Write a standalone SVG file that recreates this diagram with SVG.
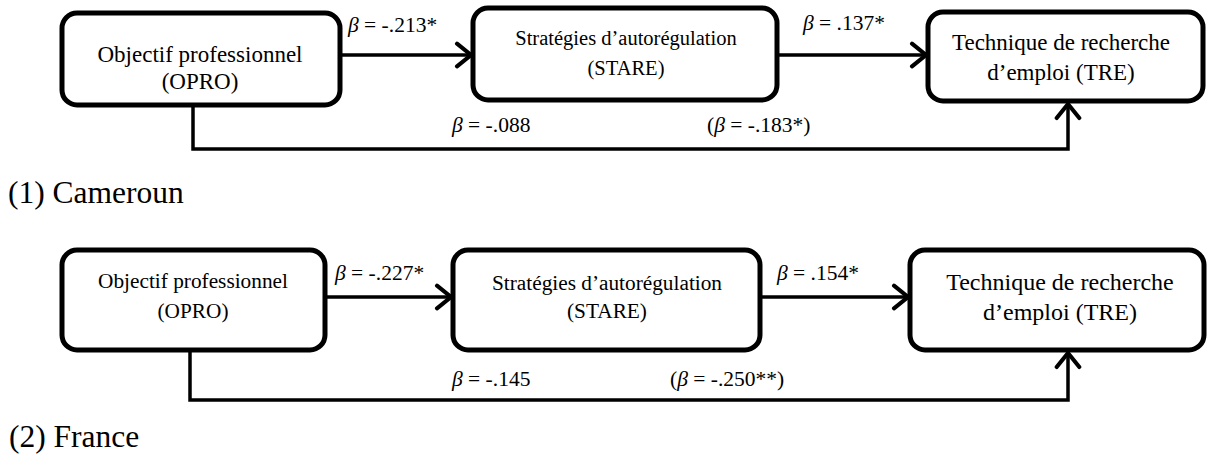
<svg xmlns="http://www.w3.org/2000/svg" width="1209" height="455" viewBox="0 0 1209 455">
<style>
.box{fill:#fff;stroke:#000;stroke-width:5}
.t{font-family:"Liberation Serif","Times New Roman",serif;fill:#000;text-anchor:middle}
.lbl{font-family:"Liberation Serif","Times New Roman",serif;fill:#000;font-size:21.5px}
.cap{font-family:"Liberation Serif","Times New Roman",serif;fill:#000;font-size:31.5px}
.b{font-style:italic}
.con{fill:none;stroke:#000;stroke-width:3.5}
</style>
<defs>
<marker id="arr" markerUnits="userSpaceOnUse" markerWidth="22" markerHeight="28" viewBox="-16 -13 18 26" refX="0" refY="0" orient="auto">
<path d="M-13,-10.5 L0,0 L-13,10.5" fill="none" stroke="#000" stroke-width="3.8" stroke-linecap="round" stroke-linejoin="miter"/>
</marker>
</defs>

<g id="connectors">
<path class="con" d="M340,55 H471" marker-end="url(#arr)"/>
<path class="con" d="M777,55 H926" marker-end="url(#arr)"/>
<path class="con" d="M193,105 V149 H1068 V104" marker-end="url(#arr)"/>
<path class="con" d="M325,297 H451" marker-end="url(#arr)"/>
<path class="con" d="M760,297 H908" marker-end="url(#arr)"/>
<path class="con" d="M190,350 V400 H1068 V353" marker-end="url(#arr)"/>
</g>

<g id="labels">
<text class="lbl" x="348" y="32"><tspan class="b">β</tspan> = -.213*</text>
<text class="lbl" x="803" y="30"><tspan class="b">β</tspan> = .137*</text>
<text class="lbl" x="452" y="132"><tspan class="b">β</tspan> = -.088</text>
<text class="lbl" x="707" y="132">(<tspan class="b">β</tspan> = -.183*)</text>
<text class="lbl" x="335" y="280"><tspan class="b">β</tspan> = -.227*</text>
<text class="lbl" x="777" y="280"><tspan class="b">β</tspan> = .154*</text>
<text class="lbl" x="452" y="386"><tspan class="b">β</tspan> = -.145</text>
<text class="lbl" x="670" y="386">(<tspan class="b">β</tspan> = -.250**)</text>
<text class="cap" x="8" y="203">(1) Cameroun</text>
<text class="cap" x="9" y="447">(2) France</text>
</g>

<g id="opro1">
<rect class="box" x="62" y="13" width="278" height="92" rx="15"/>
<text class="t" x="200" y="62" font-size="23">Objectif professionnel</text>
<text class="t" x="200" y="89" font-size="23">(OPRO)</text>
</g>
<g id="stare1">
<rect class="box" x="473" y="8" width="304" height="92" rx="15"/>
<text class="t" x="626" y="45" font-size="20.5">Stratégies d’autorégulation</text>
<text class="t" x="626" y="75" font-size="20.5">(STARE)</text>
</g>
<g id="tre1">
<rect class="box" x="928" y="12" width="275" height="89" rx="15"/>
<text class="t" x="1061" y="50" font-size="23">Technique de recherche</text>
<text class="t" x="1061" y="80" font-size="23">d’emploi (TRE)</text>
</g>

<g id="opro2">
<rect class="box" x="62" y="250" width="263" height="100" rx="15"/>
<text class="t" x="193" y="288" font-size="21.3">Objectif professionnel</text>
<text class="t" x="193" y="318" font-size="21.3">(OPRO)</text>
</g>
<g id="stare2">
<rect class="box" x="453" y="250" width="307" height="100" rx="15"/>
<text class="t" x="607" y="290" font-size="21.3">Stratégies d’autorégulation</text>
<text class="t" x="607" y="318" font-size="21.3">(STARE)</text>
</g>
<g id="tre2">
<rect class="box" x="910" y="250" width="294" height="100" rx="15"/>
<text class="t" x="1060" y="290" font-size="24">Technique de recherche</text>
<text class="t" x="1060" y="320" font-size="24">d’emploi (TRE)</text>
</g>
</svg>
